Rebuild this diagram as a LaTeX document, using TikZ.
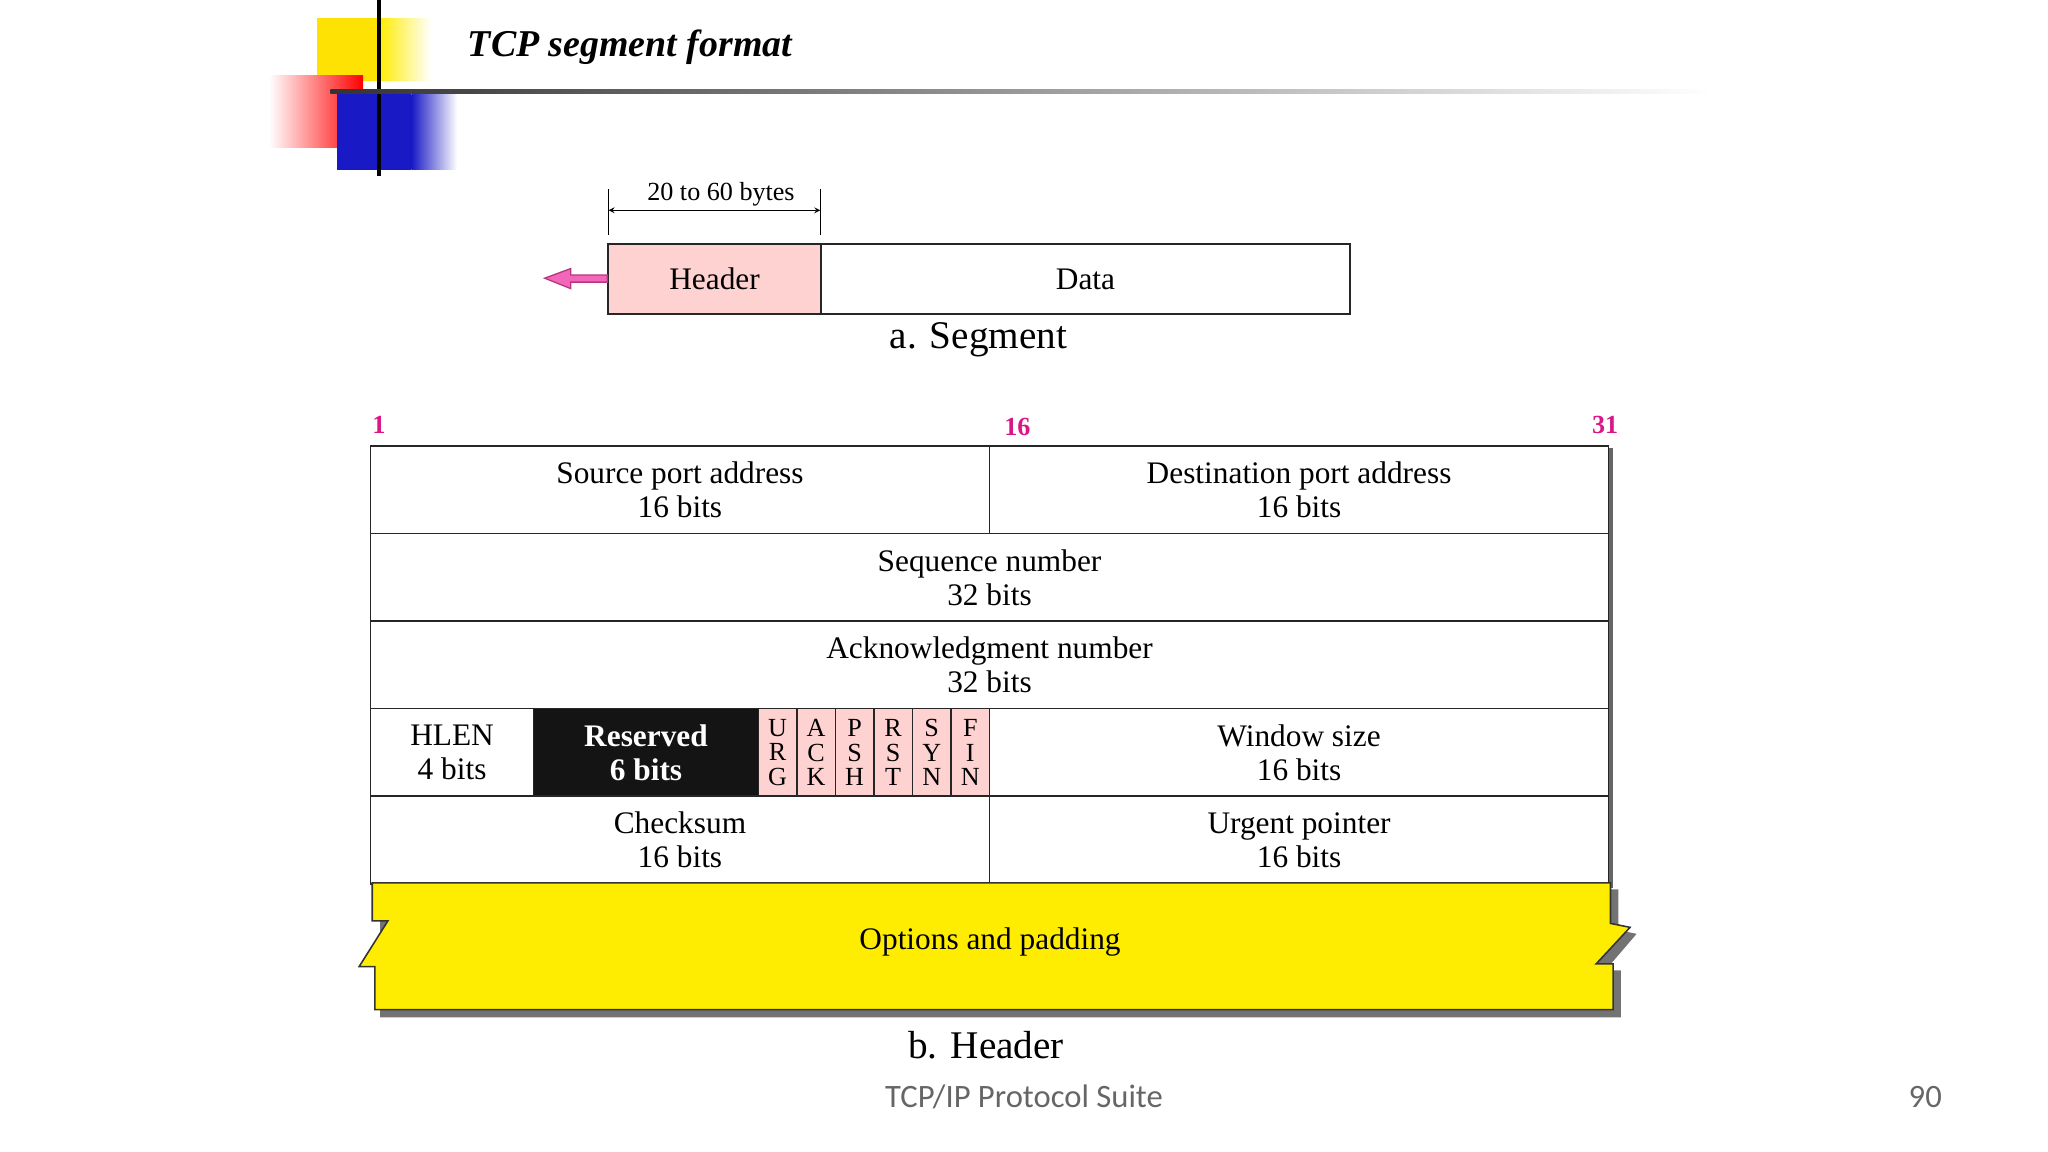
\documentclass[tikz,border=0pt]{standalone}
\usepackage{fontspec}
\setmainfont{Liberation Serif}
\newfontfamily\footfont{Carlito}
\begin{document}
\begin{tikzpicture}[x=1pt,y=-1pt,
  txt/.style={font=\fontsize{24}{26}\selectfont, align=center, inner sep=0pt},
  flag/.style={font=\fontsize{20}{19}\selectfont, align=center, inner sep=0pt},
  num/.style={font=\fontsize{20}{20}\selectfont\bfseries, text=magenta!90!black, inner sep=0pt},
  cell/.style={draw=black!85, line width=1.2pt}]
\useasboundingbox (0,0) rectangle (1568,882);
% logo
\fill[yellow!85!orange] (243,14) rectangle (290,62);
\shade[left color=yellow!85!orange, right color=white] (290,14) rectangle (330,62);
\shade[left color=white, right color=red] (206,58) rectangle (278,113);
\fill[blue!75!black!90] (258,72) rectangle (315,130);
\shade[left color=blue!75!black!90, right color=white] (315,72) rectangle (350,130);
\draw[line width=3pt] (290,0) -- (290,135);
\shade[left color=black!80, right color=white] (253,68.5) rectangle (1310,71.5);
\node[font=\fontsize{29}{30}\selectfont\bfseries\itshape, anchor=west, inner sep=0] (title) at (358,36) {TCP segment format};
% segment
\node[cell, fill=pink!70, minimum width=163pt, minimum height=54pt, anchor=north west, txt] (hdr) at (465,186) {Header};
\node[cell, minimum width=405pt, minimum height=54pt, anchor=north west, txt] (data) at (628,186) {Data};
\coordinate (arrend) at (417,213);
\draw[draw=magenta!70!black, fill=magenta!60, line width=1pt, line join=miter]
  (hdr.west) ++(0,-3) -- ++(-28,0) -- ++(0,-5) -- (arrend) -- ++(20,8) -- ++(0,-5) -- ++(28,0) -- cycle;
\coordinate (d1) at (466,161); \coordinate (d2) at (628,161);
\draw[line width=1pt] (466,145) -- (466,180) (628,145) -- (628,180);
\draw[line width=1pt, <->, >=stealth] (d1) -- (d2);
\node[font=\fontsize{20}{20}\selectfont, inner sep=0] (dim) at (552,149) {20 to 60 bytes};
\node[font=\fontsize{30}{30}\selectfont, inner sep=0] (capa) at (749,260) {a. Segment};
% numbers
\node[num] (n1) at (290,325) {1};
\node[num] (n16) at (779,327) {16};
\node[num] (n31) at (1229,325) {31};
% shadow right
\draw[line width=4pt, black!60] (1233,343) -- (1233,680);
% rows
\node[cell, txt, minimum width=474pt, minimum height=67pt, anchor=north west] (src) at (283,341) {Source port address\\16 bits};
\node[cell, txt, minimum width=474pt, minimum height=67pt, anchor=north west] (dst) at (757,341) {Destination port address\\16 bits};
\node[cell, txt, minimum width=948pt, minimum height=67pt, anchor=north west] (seq) at (283,408) {Sequence number\\32 bits};
\node[cell, txt, minimum width=948pt, minimum height=67pt, anchor=north west] (ack) at (283,475) {Acknowledgment number\\32 bits};
\node[cell, txt, minimum width=125pt, minimum height=67pt, anchor=north west] (hlen) at (283,542) {HLEN\\4 bits};
\node[cell, txt, fill=black!92, text=white, font=\fontsize{24}{26}\selectfont\bfseries, minimum width=172pt, minimum height=67pt, anchor=north west] (res) at (408,542) {Reserved\\6 bits};
\foreach \l [count=\i] in {U\\R\\G, A\\C\\K, P\\S\\H, R\\S\\T, S\\Y\\N, F\\I\\N}{
  \node[cell, flag, fill=pink!70, minimum width=29.5pt, minimum height=67pt, anchor=north west] (f\i) at ({580+(\i-1)*29.5},542) {\l};
}
\node[cell, txt, minimum width=474pt, minimum height=67pt, anchor=north west] (win) at (757,542) {Window size\\16 bits};
\node[cell, txt, minimum width=474pt, minimum height=67pt, anchor=north west] (chk) at (283,609) {Checksum\\16 bits};
\node[cell, txt, minimum width=474pt, minimum height=67pt, anchor=north west] (urg) at (757,609) {Urgent pointer\\16 bits};
% options
\fill[black!55] (291,681) -- (1239,681) -- (1239,712) -- (1253,715) -- (1229,743) -- (1241,743) -- (1241,779) -- (291,779) -- cycle;
\draw[fill=yellow!95!orange, draw=black!80, line width=1.2pt]
  (285,676) -- (1233,676) -- (1233,707) -- (1248,710) -- (1222,738) -- (1235,738) -- (1235,773)
  -- (287,773) -- (287,740) -- (275,740) -- (297,705) -- (285,705) -- cycle;
\node[txt] (opt) at (758,721) {Options and padding};
\node[font=\fontsize{30}{30}\selectfont, inner sep=0] (capb) at (755,800) {b. Header};
\node[font=\footfont\fontsize{25}{25}\selectfont, text=black!60, inner sep=0] (foot) at (784,840) {TCP/IP Protocol Suite};
\node[font=\footfont\fontsize{25}{25}\selectfont, text=black!60, inner sep=0] (page) at (1474,840) {90};
\end{tikzpicture}
\end{document}
